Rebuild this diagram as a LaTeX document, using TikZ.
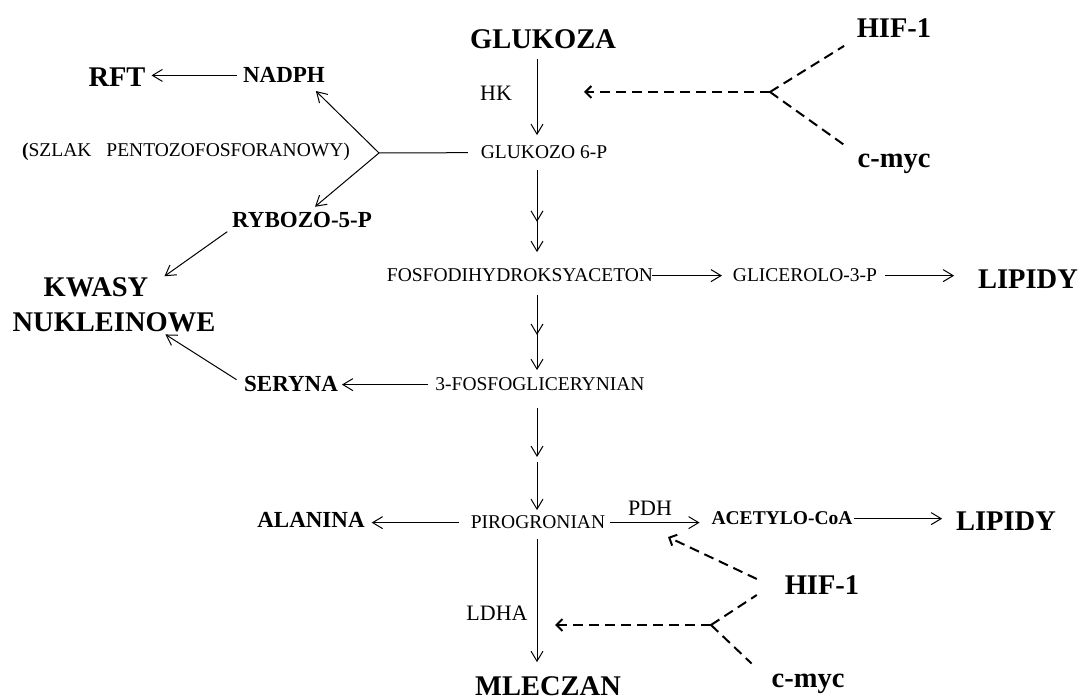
\documentclass[tikz,border=0pt]{standalone}
\usepackage{fontspec}
\setmainfont{Liberation Serif}
\usetikzlibrary{arrows.meta}
\usetikzlibrary{calc}
\usetikzlibrary{decorations.markings}

\begin{document}
\begin{tikzpicture}
  [
    x=1pt, y=1pt,
    lbl/.style={anchor=base, inner sep=0pt, outer sep=0pt},
    big/.style={lbl, font=\fontsize{28.5}{35}\selectfont\bfseries},
    mid/.style={lbl, font=\fontsize{23}{27}\selectfont\bfseries},
    small/.style={lbl, font=\fontsize{19.5}{23}\selectfont},
    enz/.style={lbl, font=\fontsize{22}{26}\selectfont},
    arr/.style={line width=1pt, -{Straight Barb[length=10pt,width=12pt]}},
    midtip/.style={
      postaction={decorate},
      decoration={markings, mark=at position #1 with {\arrow{Straight Barb[length=10pt,width=12pt]}}}
    },
    ctrl/.style={line width=2pt, dash pattern=on 10pt off 6pt},
    ctrlarr/.style={ctrl, -{Straight Barb[length=6pt,width=12pt]}}
  ]
  \useasboundingbox (0,0) rectangle (1078,700);
  % helper points
  \coordinate (col) at (537,0);
  \coordinate (pp) at (379,547);
  \coordinate (jA) at (770,608);
  \coordinate (jB) at (711,75);
  \coordinate (fgmid) at (537,240);
  % labels
  \node [big] (glukoza) at (543,651) {GLUKOZA};
  \node [big] (hifA) at (894,662) {HIF-1};
  \node [big] (mycA) at (894,532) {c-myc};
  \node [big] (rft) at (117,613) {RFT};
  \node [mid] (nadph) at (284,617) {NADPH};
  \node [enz] (hk) at (496,599) {HK};
  \node [small] (szlak) at (186,543) {\textbf{(}SZLAK\hspace{15pt}PENTOZOFOSFORANOWY)};
  \node [small] (glu6p) at (544,541) {GLUKOZO 6-P};
  \node [mid] (rybozo) at (302,472) {RYBOZO-5-P};
  \node [small] (fosfo) at (520,418) {FOSFODIHYDROKSYACETON};
  \node [small] (glicerol) at (805,418) {GLICEROLO-3-P};
  \node [big] (lipidA) at (1028,411) {LIPIDY};
  \node [big, anchor=north, align=center] (kwasy) at (114,422) {KWASY\hspace*{36pt}\\NUKLEINOWE};
  \node [mid] (seryna) at (291,308) {SERYNA};
  \node [small] (fgly) at (540,309) {3-FOSFOGLICERYNIAN};
  \node [mid] (alanina) at (311,172) {ALANINA};
  \node [small] (piro) at (538,171) {PIROGRONIAN};
  \node [enz] (pdh) at (650,184) {PDH};
  \node [small, font=\fontsize{19.5}{23}\selectfont\bfseries] (acetyl) at (782,175) {ACETYLO-CoA};
  \node [big] (lipidB) at (1006,169) {LIPIDY};
  \node [big] (hifB) at (822,105) {HIF-1};
  \node [enz] (ldha) at (497,79) {LDHA};
  \node [big] (mycB) at (808,12) {c-myc};
  \node [big] (mleczan) at (548,4) {MLECZAN};
  % main column
  \draw [arr, shorten <=10pt, shorten >=11pt] (glukoza.south -| col) -- (glu6p.north -| col);
  \draw [arr, midtip=0.57, shorten <=11pt, shorten >=17pt] (glu6p.south -| col) -- (fosfo.north -| col);
  \draw [arr, midtip=0.55, shorten <=13pt, shorten >=8pt] (fosfo.south -| col) -- (fgly.north -| col);
  \draw [arr, shorten <=17pt, shorten >=3pt] (fgly.south -| col) -- (fgmid);
  \draw [arr, shorten <=2pt, shorten >=6pt] (fgmid) -- (piro.north -| col);
  \draw [arr, shorten <=10pt, shorten >=15pt] (piro.south -| col) -- (mleczan.north -| col);
  % side branches
  \draw [arr, shorten <=6pt, shorten >=6pt] (nadph.west) -- (nadph.west -| rft.east);
  \draw [line width=1pt, shorten <=13pt] (glu6p.west) -- (pp);
  \draw [arr] (pp) -- ([xshift=-9pt,yshift=-8pt]nadph.south east);
  \draw [arr] (pp) -- ([xshift=13pt,yshift=6pt]rybozo.north);
  \draw [arr, shorten <=6pt, shorten >=3pt] (rybozo.south west) -- ([xshift=48pt]kwasy.north);
  \draw [arr, shorten <=9pt, shorten >=4pt] (seryna.west) -- ([xshift=48pt]kwasy.south);
  \draw [arr, shorten <=7pt, shorten >=4pt] (fgly.west) -- (fgly.west -| seryna.east);
  \draw [arr, shorten <=-1pt, shorten >=11pt] (fosfo.east) -- (fosfo.east -| glicerol.west);
  \draw [arr, shorten <=8pt, shorten >=24pt] (glicerol.east) -- (glicerol.east -| lipidA.west);
  \draw [arr, shorten <=12pt, shorten >=7pt] (piro.west) -- (piro.west -| alanina.east);
  \draw [arr, shorten <=5pt, shorten >=12pt] (piro.east) -- (piro.east -| acetyl.west);
  \draw [arr, shorten <=2pt, shorten >=14pt] (acetyl.east) -- (acetyl.east -| lipidB.west);
  % regulation
  \draw [ctrl, shorten >=15pt] (jA) -- (hifA.south west);
  \draw [ctrl, shorten >=17pt] (jA) -- (mycA.north west);
  \draw [ctrlarr, shorten >=47pt] (jA) -- (jA -| col);
  \draw [ctrl] (jB) -- ([xshift=-28pt]hifB.south west);
  \draw [ctrlarr] ([xshift=-28pt,yshift=16pt]hifB.south west) -- ([xshift=18pt,yshift=-21pt]pdh.south);
  \draw [ctrl] (jB) -- ([xshift=-20pt,yshift=11pt]mycB.north west);
  \draw [ctrlarr, shorten >=18pt] (jB) -- (jB -| col);
\end{tikzpicture}
\end{document}
